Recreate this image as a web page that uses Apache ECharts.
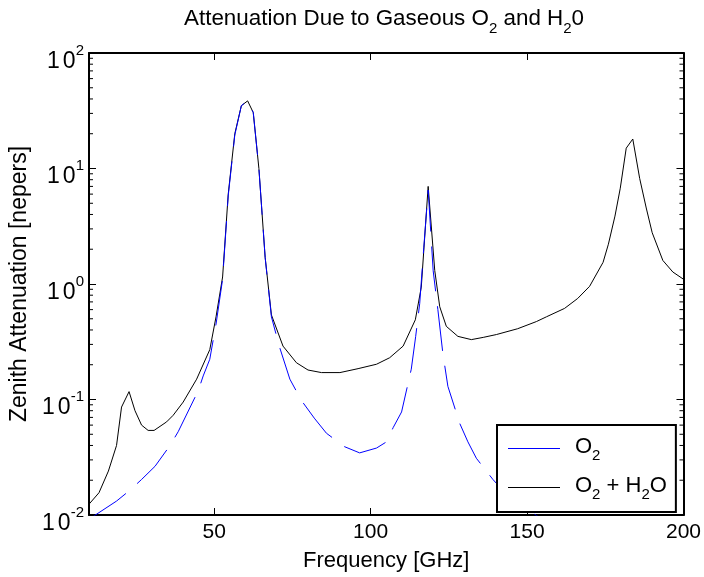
<!DOCTYPE html>
<html>
<head>
<meta charset="utf-8">
<script src="https://cdn.jsdelivr.net/npm/echarts@6/dist/echarts.min.js"></script>
<style>html,body{margin:0;padding:0;background:#fff}#c{width:704px;height:577px}</style>
</head>
<body>
<div id="c"></div>
<script>
// ---- data ----
const freqTotal = [10, 13.2, 16.2, 18.8, 20.4, 22.8, 24.7, 26.8, 28.9, 30.8, 34.8, 36.9, 40.1, 44.4, 48.6, 50.6, 52.7, 54.5, 56.6, 58.7, 60.7, 62.5, 64.3, 66.3, 68.3, 72.0, 76.3, 80.0, 84.3, 90.2, 96.0, 101.9, 106.1, 110.4, 114.3, 116.2, 118.4, 120.5, 122.1, 124.2, 127.9, 132.2, 136.0, 140.2, 147.0, 153.0, 156.2, 162.0, 166.2, 170.0, 174.3, 176.0, 178.1, 179.8, 181.7, 183.8, 186.0, 188.1, 190.0, 193.4, 196.6, 200];
const attTotal = [0.0124, 0.0156, 0.024, 0.040, 0.086, 0.117, 0.080, 0.060, 0.054, 0.054, 0.064, 0.073, 0.095, 0.150, 0.27, 0.52, 1.15, 6.0, 20, 35, 38.5, 30.5, 10, 1.7, 0.54, 0.29, 0.208, 0.18, 0.171, 0.171, 0.185, 0.202, 0.230, 0.29, 0.49, 0.94, 7.0, 1.31, 0.635, 0.43, 0.352, 0.33, 0.345, 0.365, 0.41, 0.473, 0.52, 0.615, 0.75, 0.955, 1.54, 2.21, 3.87, 6.75, 15.0, 18.0, 8.2, 4.55, 2.78, 1.6, 1.27, 1.1];
const freqO2 = [10, 18.8, 23.1, 26.8, 31.1, 35.9, 38.5, 44.9, 46.5, 48.6, 50.6, 52.7, 54.5, 56.6, 58.7, 60.7, 62.5, 64.3, 66.3, 68.3, 70.8, 74.2, 77.9, 82.0, 85.9, 91.7, 96.5, 101.9, 105.1, 107.2, 109.9, 113.0, 114.4, 115.7, 117.0, 118.4, 120.0, 121.5, 123.1, 124.7, 128.5, 131.1, 133.8, 139.1, 144.0, 149.8, 153.0, 160, 170, 180, 190, 200];
const attO2 = [0.0092, 0.0132, 0.0164, 0.0203, 0.0264, 0.040, 0.0526, 0.119, 0.160, 0.223, 0.45, 1.1, 5.8, 19.5, 35, 38.5, 30.5, 10, 1.7, 0.52, 0.29, 0.150, 0.098, 0.069, 0.051, 0.039, 0.0345, 0.038, 0.043, 0.057, 0.078, 0.183, 0.35, 0.68, 2.07, 6.5, 1.3, 0.6, 0.25, 0.13, 0.062, 0.043, 0.031, 0.0203, 0.0145, 0.01125, 0.0099, 0.0078, 0.0062, 0.0055, 0.0050, 0.0046];
const xTickValues = [50, 100, 150, 200];
const yTickExponents = ['-2', '-1', '0', '1', '2'];
const yMinorTickValues = [];
[0.01, 0.1, 1, 10].forEach(d => { for (let k = 2; k <= 9; k++) yMinorTickValues.push(+(d * k).toPrecision(3)); });
const seriesNames = ['O2', 'O2 + H2O'];
const seriesColors = ['#0000ff', '#000000'];

const X_MIN = 10, X_MAX = 200, Y_MIN = 0.01, Y_MAX = 100;
const FONT = '"Liberation Sans", Arial, Helvetica, sans-serif';

const chart = echarts.init(document.getElementById('c'), null, { renderer: 'canvas' });

const axisLineStyle = { show: true, lineStyle: { color: '#000', width: 2 } };

function yLabel(val) {
  const e = Math.round(Math.log10(val));
  const idx = e + 2;
  const s = yTickExponents[idx] !== undefined ? yTickExponents[idx] : String(e);
  return '{b|1}{z|0}{sup|' + s + '}';
}

const legendRich = {
  n0: { fontFamily: FONT, fontSize: 22, fontWeight: 'normal', lineHeight: 25, verticalAlign: 'top', color: '#000', padding: [0, 0, 0, 10] },
  n: { fontFamily: FONT, fontSize: 22, fontWeight: 'normal', lineHeight: 25, verticalAlign: 'top', color: '#000' },
  s: { fontFamily: FONT, fontSize: 15, fontWeight: 'normal', lineHeight: 16, verticalAlign: 'top', color: '#000', padding: [12, 0, 0, 0] }
};

const option = {
  animation: false,
  backgroundColor: '#fff',
  title: {
    text: '{n|Attenuation Due to Gaseous O}{s|2}{n| and H}{s|2}{n|0}',
    left: 184,
    top: 8,
    padding: 0,
    textStyle: {
      fontWeight: 'normal',
      rich: {
        n: { fontFamily: FONT, fontSize: 22.4, fontWeight: 'normal', lineHeight: 26, verticalAlign: 'top', color: '#000' },
        s: { fontFamily: FONT, fontSize: 15, fontWeight: 'normal', lineHeight: 17, verticalAlign: 'top', color: '#000', padding: [13, 0, 0, 0] }
      }
    }
  },
  grid: { left: 89, top: 53, right: 20, bottom: 56, containLabel: false },
  legend: {
    data: seriesNames,
    orient: 'vertical',
    left: 497,
    top: 425,
    icon: 'rect',
    itemWidth: 52,
    itemHeight: 1,
    itemGap: 12,
    padding: [11, 9, 10, 11],
    backgroundColor: '#fff',
    borderColor: '#000',
    borderWidth: 2,
    borderRadius: 0,
    textStyle: { rich: legendRich },
    formatter: function (name) {
      if (name === 'O2') return '{n0|O}{s|2}';
      return '{n0|O}{s|2}{n| + H}{s|2}{n|O}';
    }
  },
  xAxis: [
    {
      type: 'value', min: X_MIN, max: X_MAX, position: 'bottom',
      name: 'Frequency [GHz]', nameLocation: 'middle', nameGap: 35,
      nameTextStyle: { fontFamily: FONT, fontSize: 22, color: '#000' },
      axisLine: axisLineStyle,
      axisTick: { show: true, inside: true, length: 7, customValues: xTickValues, lineStyle: { color: '#000', width: 1 } },
      axisLabel: { show: true, customValues: xTickValues, margin: 7, fontFamily: FONT, fontSize: 21, color: '#000' },
      splitLine: { show: false }
    },
    {
      type: 'value', min: X_MIN, max: X_MAX, position: 'top',
      axisLine: axisLineStyle,
      axisTick: { show: true, inside: true, length: 7, customValues: xTickValues, lineStyle: { color: '#000', width: 1 } },
      axisLabel: { show: false },
      splitLine: { show: false }
    }
  ],
  yAxis: [
    {
      type: 'log', logBase: 10, min: Y_MIN, max: Y_MAX, position: 'left',
      name: 'Zenith Attenuation [nepers]', nameLocation: 'middle', nameGap: 52,
      nameTextStyle: { fontFamily: FONT, fontSize: 23, color: '#000' },
      axisLine: axisLineStyle,
      axisTick: { show: true, inside: true, length: 7, lineStyle: { color: '#000', width: 1 } },
      axisLabel: {
        margin: 5, formatter: yLabel,
        rich: {
          b: { fontFamily: FONT, fontSize: 23, lineHeight: 22, verticalAlign: 'top', color: '#000', padding: [8, 0, 8, 0] },
          z: { fontFamily: FONT, fontSize: 23, lineHeight: 22, verticalAlign: 'top', color: '#000', padding: [8, 0, 8, 3] },
          sup: { fontFamily: FONT, fontSize: 15, lineHeight: 15, verticalAlign: 'top', color: '#000', padding: [1, 0, 0, 0] }
        }
      },
      splitLine: { show: false }
    },
    {
      type: 'log', logBase: 10, min: Y_MIN, max: Y_MAX, position: 'right',
      axisLine: axisLineStyle,
      axisTick: { show: true, inside: true, length: 7, lineStyle: { color: '#000', width: 1 } },
      axisLabel: { show: false },
      splitLine: { show: false }
    }
  ],
  series: [
    {
      name: 'O2', type: 'line', xAxisIndex: 0, yAxisIndex: 0, z: 3,
      data: freqO2.map((f, i) => [f, attO2[i]]),
      symbol: 'none', showSymbol: false, smooth: false, clip: true,
      lineStyle: { color: seriesColors[0], width: 1, type: [45, 15] },
      itemStyle: { color: seriesColors[0] }
    },
    {
      name: 'O2 + H2O', type: 'line', xAxisIndex: 0, yAxisIndex: 0, z: 2,
      data: freqTotal.map((f, i) => [f, attTotal[i]]),
      symbol: 'none', showSymbol: false, smooth: false, clip: true,
      lineStyle: { color: seriesColors[1], width: 1, type: 'solid' },
      itemStyle: { color: seriesColors[1] }
    },
    {
      name: 'minorTicks', type: 'custom', xAxisIndex: 0, yAxisIndex: 0, silent: true, z: 4,
      data: yMinorTickValues.map(v => [X_MIN, v]),
      renderItem: function (params, api) {
        const v = api.value(1);
        const pL = api.coord([X_MIN, v]);
        const pR = api.coord([X_MAX, v]);
        const st = { stroke: '#000', lineWidth: 1 };
        return {
          type: 'group',
          children: [
            { type: 'line', shape: { x1: pL[0], y1: pL[1], x2: pL[0] + 4, y2: pL[1] }, style: st },
            { type: 'line', shape: { x1: pR[0], y1: pR[1], x2: pR[0] - 4, y2: pR[1] }, style: st }
          ]
        };
      }
    }
  ]
};
chart.setOption(option);
</script>
</body>
</html>
